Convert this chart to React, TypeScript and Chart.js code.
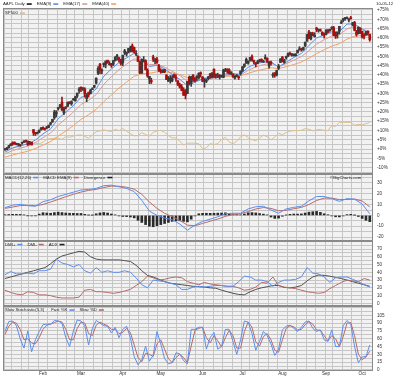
import React, { useEffect, useRef } from 'react';
import { Chart, registerables } from 'chart.js';

Chart.register(...registerables);

// ---------- axis / calendar (trading-day index, 0 = 2012-01-03) ----------
const monthTicks = [20, 40, 62, 82, 104, 125, 146, 169, 188];
const monthLabels = ['Feb', 'Mar', 'Apr', 'May', 'Jun', 'Jul', 'Aug', 'Sep', 'Oct'];
const weekStarts = [0, 4, 9, 13, 18, 23, 28, 33, 37, 42, 47, 52, 57, 62, 66, 71, 76, 81, 86, 91, 96, 101, 105, 110, 115, 120, 125, 129, 134, 139, 144, 149, 154, 159, 164, 169, 173, 178, 183, 188];
const dateLabel = '10-05-12';

// ---------- AAPL daily OHLC ($) ----------
const opens = [409,410,414,419,425,426,421,423,419,424,426,429,428,422,426,454,448,445,448,455,459,456,458,459,466,471,480,489,500,504,515,491,504,506,514,511,520,518,528,541,548,544,544,523,537,534,545,548,557,579,599,584,598,599,608,598,600,599,607,618,613,609,602,624,624,626,627,640,636,621,617,604,579,605,607,586,566,563,615,608,610,596,584,581,587,575,561,565,562,575,568,562,553,549,542,534,534,570,557,575,569,570,569,580,570,562,561,567,578,571,588,575,575,571,571,570,583,588,587,579,577,568,575,571,578,584,594,601,602,608,616,607,602,601,605,610,606,611,612,595,603,574,580,575,590,603,615,603,613,617,623,619,618,618,624,631,632,631,640,650,671,655,666,660,679,674,675,670,668,665,675,673,679,680,665,666,672,690,697,700,700,699,702,686,692,671,667,679,672,662,665,672,665];
const highs = [412,415,419,423,427,427,424,423,421,426,429,431,429,428,426,454,448,449,453,459,460,457,461,464,470,477,497,496,503,510,526,504,505,515,516,518,523,528,535,547,549,547,547,534,537,543,547,552,569,594,601,589,602,606,608,605,601,607,616,621,614,610,619,632,626,634,639,644,637,629,617,606,610,616,609,589,572,568,619,612,614,599,589,587,588,576,572,574,574,577,576,563,557,554,547,543,561,573,572,576,569,574,580,582,572,567,566,572,578,580,589,577,579,576,575,588,590,589,589,582,578,574,576,573,584,594,600,613,606,614,620,608,603,608,610,611,608,620,613,605,606,580,580,586,599,611,616,610,617,624,626,623,622,622,630,638,634,637,648,665,674,669,670,669,681,677,677,671,668,675,676,677,682,683,670,670,683,696,700,703,704,700,705,692,694,674,682,680,672,667,672,673,665];
const lows = [408,409,413,418,419,421,420,418,417,422,425,426,419,421,420,441,441,444,447,453,454,453,456,458,464,470,477,482,497,502,496,487,500,505,511,508,519,517,525,535,538,541,526,516,526,533,543,547,555,576,578,578,593,591,601,597,592,596,606,608,604,597,596,620,617,624,626,626,624,618,605,578,579,604,586,570,556,556,605,600,601,583,579,580,580,565,561,557,560,569,561,552,546,540,530,522,534,553,550,561,560,563,566,571,560,548,558,564,568,569,570,568,569,566,570,569,583,579,577,576,570,566,571,565,575,583,592,601,599,606,606,600,593,600,604,604,603,610,603,590,597,570,570,573,587,603,604,601,610,616,619,617,617,617,624,630,628,630,638,650,656,653,662,659,671,670,672,663,657,664,669,672,676,662,656,657,666,689,693,696,700,693,699,684,673,661,666,667,657,655,663,664,650];
const closes = [411,413,418,422,422,423,423,421,420,425,429,428,420,427,420,447,445,447,453,456,456,455,460,464,469,477,493,493,503,509,498,502,502,515,513,516,522,526,535,542,544,545,533,530,531,542,545,552,568,590,586,586,601,606,603,599,596,607,614,618,610,600,619,629,624,634,636,628,626,623,605,580,610,608,587,573,572,560,610,608,603,584,582,586,582,565,569,568,569,571,567,553,548,541,530,530,561,557,571,565,562,572,579,578,561,564,563,571,572,580,571,576,572,572,574,586,587,586,578,582,571,572,575,569,584,593,599,610,606,614,608,604,599,605,607,607,606,614,604,604,601,575,575,585,595,611,607,608,616,623,621,620,621,622,630,632,631,636,648,665,656,669,663,663,676,675,673,664,665,675,670,676,680,663,661,670,683,691,700,702,702,699,700,691,674,665,681,667,659,661,671,667,653];

// ---------- EMAs of AAPL ($), every 4 trading days ----------
const EMA_STEP = 4;
const ema9 = [404,413.4,418.1,422.2,430.9,444.4,455.6,478.1,492.4,507.1,525.6,530.3,544.3,572.3,588.6,602.7,613,623.1,611.3,593.8,596.7,588.8,576.6,565.3,551.8,559,566.3,567.6,571.5,577.3,577.7,576.7,592.4,599.9,603.7,604.3,592.7,603.5,613.9,623,640.8,657.1,663.7,670.9,671.1,688,688.4,675.8,667.7];
const ema17 = [400.3,407.5,412.8,417.4,425.2,436.1,446.4,463.9,478.2,492.8,509.8,518.9,531.7,554.3,571.4,587,599.4,610.9,607.9,598.5,598,592.6,583.4,573.9,561.4,562.4,566,566.6,569.7,573.6,575.6,575.4,585.4,593.2,598.1,601.1,594.1,600.2,608,615.9,629,643.6,653.2,661.4,664.3,677.3,682.4,677,671.7];
const ema40 = [392.9,397.7,402,406.2,412,419.6,427.6,439.5,450.9,462.9,476.6,487.1,499,515.9,531.2,546.1,559.5,572.4,577.9,578.8,582.2,582.4,579.8,575.9,569.5,568.5,569.1,568.8,570,571.9,573.2,573.6,578.8,583.8,587.8,591.1,589.5,593.3,598.3,603.9,612.5,622.6,631.1,639.1,644.6,654.5,661.2,662.5,662.6];

// ---------- S&P 500 close, every 2 trading days ----------
const HALF_STEP = 2;
const sp500 = [1277,1281,1281,1293,1289,1308,1315,1314,1318,1313,1324,1345,1348,1351,1351,1344,1361,1358,1366,1372,1374,1364,1352,1371,1396,1402,1409,1402,1397,1413,1403,1419,1399,1383,1368,1370,1390,1377,1367,1391,1403,1405,1392,1370,1354,1353,1330,1305,1316,1318,1317,1313,1278,1285,1315,1308,1314,1343,1357,1325,1313,1332,1362,1375,1355,1341,1334,1353,1372,1362,1339,1360,1385,1376,1391,1401,1403,1404,1405,1418,1413,1402,1410,1411,1406,1404,1438,1433,1460,1461,1461,1460,1441,1447,1444,1451,1461];

// ---------- MACD(12,26) ----------
const macdLine = [7.1,9.5,10.2,9,8.5,12.7,14.5,17.5,19.5,21.5,23.5,24,25,27.5,28,26.5,25,22,14,4,0,-2.5,-4,-8,-13.7,-9,-5.5,-3.5,-1.3,1.5,2,2,6,8,8.5,5,2,6,7.5,8.5,13.5,17.5,17.5,15.5,13,15.5,15,10.5,1.5];
const macdSignal = [6.5,7.7,9.1,9.3,8.9,10.1,12.4,14.8,17.3,19.5,21.6,23.1,24.1,25.8,27.1,27,26.1,24.3,19.5,12.5,6.5,2,-1.2,-4.6,-9,-9.6,-7.4,-5.4,-3.4,-0.9,0.8,1.5,3.6,5.9,7.3,6.5,4.3,4.7,6.2,7.4,10.1,13.8,16,16,14.6,14.8,15.1,13.3,7.9];
const macdDivergence = [0.6,0.8,1,1,0.9,0.5,-0.3,-0.5,-0.4,1.2,2.5,2.2,2,2.6,3,2.6,2.2,2,1.9,1.8,1.8,1,0.3,0.2,1.5,2.3,2.7,2.2,1.3,0.5,-0.5,-1,-1.1,-1.5,-2.3,-4.5,-6.5,-8.5,-10,-10.5,-9.5,-8.5,-7.5,-6.5,-5.5,-5,-5,-5.5,-6,-3.5,-0.5,1.5,1.9,2,1.9,2,2.1,2.2,2.4,1.7,1.2,0.8,0.5,1.3,2.4,2.6,2.3,1.7,1.2,0.5,-1.5,-2.8,-2.5,-0.8,0.3,1,1.3,1.2,1.4,2.2,3,3.4,3.7,2.8,1.5,0.6,-0.5,-1.3,-1.4,-0.5,0.7,1,0.2,-1,-2.8,-4.5,-5.8];

// ---------- DMI, every 3 trading days ----------
const DMI_STEP = 3;
const dmiPlus = [37,41,38,38,39,38,42,42,44,57,52,50,47,50,42,39,46,40,42,40,40,42,40,33,24,20,30,29,28,26,24,18,18,21,22,21,22,23,23,22,22,28,35,34,30,30,28,22,27,30,30,31,34,46,39,38,34,27,33,34,34,31,28,24,21];
const dmiMinus = [17,14,12,11,15,14,11,11,10,8,7,7,7,8,17,18,15,15,14,13,14,16,18,23,28,35,33,30,31,33,34,33,28,26,24,27,25,24,23,22,22,20,17,18,21,27,26,34,23,21,20,19,17,15,14,13,14,19,23,27,30,29,28,32,30];
const adx = [32,34,36,38,40,42,44,46,51,57,61,63,65,67,66,60,57,56,56,56,56,55,54,49,42,36,34,31,28,26,25,24,23,22,21.5,21,20,19.5,17,15,13,11.5,11,15,18,20,21.5,23,23,20.5,20,21,23,29,34,36.5,36,35,33.5,32,30,28,26,24,22];

// ---------- Slow Stochastic(5,3), every 2 trading days ----------
const fastK = [74,93,94,85,60,42,75,35,58,74,87,88,88,95,94,90,62,45,75,96,94,85,48,80,95,90,85,84,71,82,62,78,84,62,26,10,20,46,17,28,74,50,22,12,14,33,31,18,12,78,78,82,82,40,62,72,40,45,78,78,55,30,58,94,92,70,38,55,74,66,50,28,40,77,84,86,80,74,82,92,94,80,74,77,58,55,77,45,45,85,95,88,45,14,25,26,48];
const slowD = [68,84,92,90,78,58,60,52,50,62,78,86,88,91,94,92,78,58,58,80,92,90,70,66,86,92,88,85,78,78,70,72,80,72,48,24,16,32,30,26,50,58,40,22,14,24,30,24,14,46,76,80,82,62,52,66,56,44,62,76,66,42,42,74,92,82,54,46,64,70,58,38,34,58,80,85,83,77,78,87,93,88,77,76,66,56,66,60,45,64,90,91,66,30,20,25,36];

// ---------- styling ----------
const FONT = 'Liberation Sans';
const FS = 4.6;
const LFS = 4.3;
const GRID = '#c6c6c6';
const BG = '#f2f2f2';
const C_EMA9 = '#5b8fe6';
const C_EMA17 = '#d89c9c';
const C_EMA40 = '#f2a266';
const C_SP = '#dcc08c';
const C_UP = '#3a3a3a';
const C_DOWN = '#a80f0f';
const C_BLUE = '#5b8ff0';
const C_RED = '#b76b6b';
const C_DARK = '#505050';

const X_MIN = -1.05;
const X_MAX = 193.7;

function gridTicks(min: number, max: number, step: number) {
  const out: number[] = [];
  for (let v = Math.ceil(min / step) * step; v <= max + 1e-9; v += step) out.push(Math.round(v * 100) / 100);
  return out;
}

function yAxis(min: number, max: number, gridStep: number, labelStep: number, labelMin: number, labelMax: number, fmt: (v: number) => string, stackWeight: number, weight: number) {
  return {
    type: 'linear',
    position: 'right',
    stack: 'panels',
    stackWeight,
    weight,
    min,
    max,
    border: { display: false },
    grid: { color: GRID, lineWidth: 1, drawTicks: false },
    ticks: {
      autoSkip: false,
      padding: 4,
      color: '#333',
      font: { size: FS, family: FONT },
      callback: (v: number) => {
        const r = v / labelStep;
        if (Math.abs(r - Math.round(r)) > 1e-6) return '';
        if (v < labelMin - 1e-6 || v > labelMax + 1e-6) return '';
        return fmt(v);
      },
    },
    afterBuildTicks: (s: any) => {
      s.ticks = gridTicks(min, max, gridStep).map((v) => ({ value: v }));
    },
    afterFit: (s: any) => {
      s.width = 27;
    },
  };
}

// legend row: items laid out left to right, text then a short colour swatch
function drawLegend(ctx: CanvasRenderingContext2D, x0: number, y: number, items: [string, string | null][]) {
  ctx.font = `${LFS}px "${FONT}"`;
  ctx.textBaseline = 'middle';
  ctx.textAlign = 'left';
  let x = x0;
  for (const [text, color] of items) {
    ctx.fillStyle = '#222';
    ctx.fillText(text, x, y);
    x += ctx.measureText(text).width + 2;
    if (color) {
      ctx.fillStyle = color;
      ctx.fillRect(x, y - 0.75, 5, 1.6);
      x += 5;
    }
    x += 5;
  }
}

const panelPlugin = {
  id: 'panelPlugin',
  beforeDraw(chart: any) {
    const { ctx, chartArea: ca } = chart;
    ctx.save();
    ctx.fillStyle = '#ffffff';
    ctx.fillRect(0, 0, chart.width, chart.height);
    ctx.fillStyle = BG;
    ctx.fillRect(ca.left, ca.top, ca.right - ca.left, ca.bottom - ca.top);
    ctx.restore();
  },
  afterDraw(chart: any) {
    const { ctx, chartArea: ca } = chart;
    ctx.save();
    ctx.strokeStyle = '#8a8a8a';
    ctx.lineWidth = 1;
    for (const id of ['yP', 'yM', 'yD', 'yS']) {
      const s = chart.scales[id];
      ctx.strokeRect(Math.round(ca.left) + 0.5, Math.round(s.top) + 0.5, Math.round(ca.right - ca.left) - 1, Math.round(s.bottom - s.top) - 1);
    }
    const yP = chart.scales.yP;
    const yM = chart.scales.yM;
    const yD = chart.scales.yD;
    const yS = chart.scales.yS;
    drawLegend(ctx, 3, 4, [['AAPL Daily', '#111'], ['EMA(9)', C_EMA9], ['EMA(17)', C_EMA17], ['EMA(40)', C_EMA40]]);
    drawLegend(ctx, 5, yP.top + 5, [['SP500', C_SP]]);
    drawLegend(ctx, 5, yM.top + 3.5, [['MACD(12,26)', C_BLUE], ['MACD EMA(9)', C_RED], ['Divergence', '#222']]);
    drawLegend(ctx, 330, yM.top + 3.5, [['\u00A9BigCharts.com', null]]);
    drawLegend(ctx, 5, yD.top + 3.5, [['DMI+', C_BLUE], ['DMI-', C_RED], ['ADX', '#222']]);
    drawLegend(ctx, 5, yS.top + 4, [['Slow Stochastic(5,3)', null], ['Fast %K', C_BLUE], ['Slow %D', C_RED]]);
    drawLegend(ctx, 376, 4, [[dateLabel, null]]);
    ctx.restore();
  },
};

export default function App() {
  const ref = useRef<HTMLCanvasElement>(null);

  useEffect(() => {
    document.body.style.margin = '0';
    const canvas = ref.current;
    if (!canvas) return;

    const aBase = closes[0];
    const sBase = sp500[0];
    const pA = (v: number) => (v / aBase - 1) * 100;
    const pS = (v: number) => (v / sBase - 1) * 100;

    const candleColors = closes.map((c, i) => (c >= opens[i] ? C_UP : C_DOWN));

    const line = (label: string, data: any[], color: string, yAxisID: string, order: number, width = 1) => ({
      type: 'line',
      label,
      data,
      yAxisID,
      xAxisID: 'x',
      borderColor: color,
      backgroundColor: color,
      borderWidth: width,
      pointRadius: 0,
      tension: 0,
      fill: false,
      order,
    });

    const pts = (arr: number[], step: number, f: (v: number) => number = (v) => v) => arr.map((v, i) => ({ x: i * step, y: f(v) }));

    const chart = new Chart(canvas, {
      type: 'line',
      data: {
        datasets: [
          line('SP500', pts(sp500, HALF_STEP, pS), C_SP, 'yP', 20),
          line('EMA(40)', pts(ema40, EMA_STEP, pA), C_EMA40, 'yP', 19),
          line('EMA(17)', pts(ema17, EMA_STEP, pA), C_EMA17, 'yP', 18),
          line('EMA(9)', pts(ema9, EMA_STEP, pA), C_EMA9, 'yP', 17),
          {
            type: 'bar',
            label: 'wick',
            data: highs.map((h, i) => ({ x: i, y: [pA(lows[i]), pA(h)] })),
            yAxisID: 'yP',
            xAxisID: 'x',
            backgroundColor: candleColors,
            barThickness: 1,
            grouped: false,
            order: 6,
          },
          {
            type: 'bar',
            label: 'body',
            data: opens.map((o, i) => ({ x: i, y: [pA(o), pA(closes[i])] })),
            yAxisID: 'yP',
            xAxisID: 'x',
            backgroundColor: candleColors,
            barThickness: 2,
            minBarLength: 1,
            grouped: false,
            order: 5,
          },
          {
            type: 'bar',
            label: 'Divergence',
            data: pts(macdDivergence, HALF_STEP),
            yAxisID: 'yM',
            xAxisID: 'x',
            backgroundColor: '#2a2a2a',
            barThickness: 2,
            grouped: false,
            order: 12,
          },
          line('MACD EMA(9)', pts(macdSignal, EMA_STEP), C_RED, 'yM', 4),
          line('MACD(12,26)', pts(macdLine, EMA_STEP), C_BLUE, 'yM', 3),
          line('ADX', pts(adx, DMI_STEP), C_DARK, 'yD', 4),
          line('DMI-', pts(dmiMinus, DMI_STEP), C_RED, 'yD', 3),
          line('DMI+', pts(dmiPlus, DMI_STEP), C_BLUE, 'yD', 2),
          line('Slow %D', pts(slowD, HALF_STEP), C_RED, 'yS', 3),
          line('Fast %K', pts(fastK, HALF_STEP), C_BLUE, 'yS', 2),
        ] as any,
      },
      options: {
        responsive: false,
        animation: false,
        maintainAspectRatio: false,
        devicePixelRatio: 1,
        layout: { padding: { left: 3, right: 0, top: 8, bottom: 0 } },
        plugins: { legend: { display: false }, tooltip: { enabled: false }, title: { display: false } },
        events: [],
        scales: {
          x: {
            type: 'linear',
            position: 'bottom',
            min: X_MIN,
            max: X_MAX,
            offset: false,
            border: { display: false },
            grid: { display: false, offset: false, drawTicks: false },
            ticks: {
              autoSkip: false,
              maxRotation: 0,
              padding: 0,
              color: '#333',
              font: { size: FS, family: FONT },
              callback: (v: number) => {
                const k = monthTicks.indexOf(v);
                return k >= 0 ? monthLabels[k] : '';
              },
            },
            afterBuildTicks: (s: any) => {
              s.ticks = monthTicks.map((v) => ({ value: v }));
            },
            afterFit: (s: any) => {
              s.height = 7;
            },
          },
          xw: {
            type: 'linear',
            position: 'bottom',
            min: X_MIN,
            max: X_MAX,
            offset: false,
            border: { display: false },
            grid: { color: GRID, lineWidth: 1, drawTicks: false, offset: false },
            ticks: { display: false },
            afterBuildTicks: (s: any) => {
              s.ticks = weekStarts.map((v) => ({ value: v - 0.5 }));
            },
            afterFit: (s: any) => {
              s.height = 0;
            },
          },
          yP: yAxis(-13.48, 76.07, 2.5, 5, -10, 75, (v) => (v >= 0 ? `+${v}%` : `${v}%`), 166, 1),
          yM: yAxis(-23.7, 38.33, 5, 10, -20, 30, (v) => `${v}`, 67, 2),
          yD: yAxis(-3.35, 80.3, 5, 10, 0, 70, (v) => `${v}`, 65, 3),
          yS: yAxis(-1.92, 122.85, 7.5, 15, 0, 105, (v) => `${v}`, 65, 4),
        },
      } as any,
      plugins: [panelPlugin],
    } as any);

    return () => chart.destroy();
  }, []);

  return (
    <div style={{ width: 400, height: 378, background: '#fff' }}>
      <canvas ref={ref} width={400} height={378} style={{ display: 'block', width: 400, height: 378 }} />
    </div>
  );
}
